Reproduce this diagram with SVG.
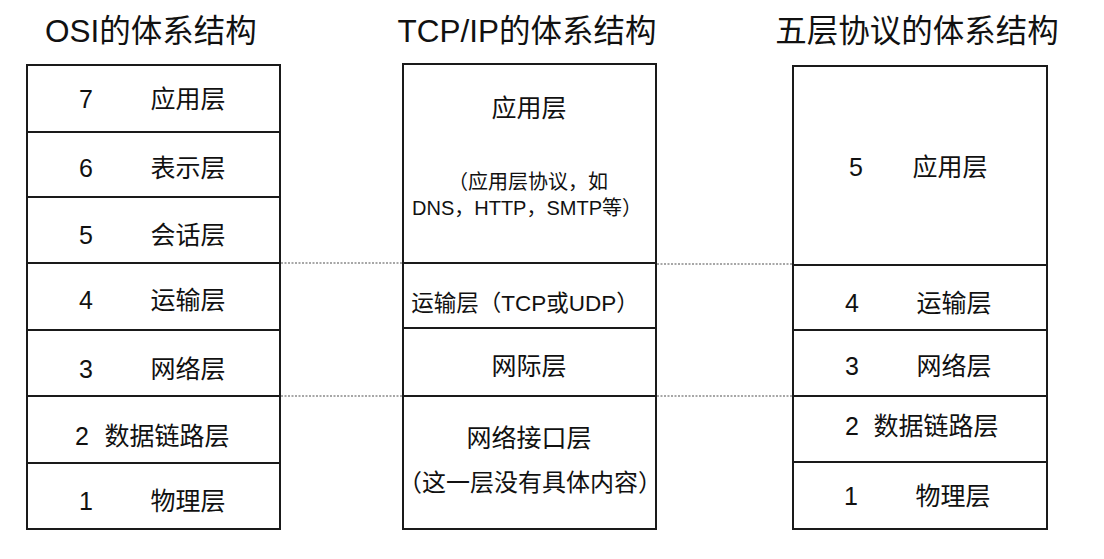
<svg xmlns="http://www.w3.org/2000/svg" width="1104" height="559" viewBox="0 0 1104 559">
<style>
.box{fill:#fff;stroke:#1a1a1a;stroke-width:2}
.sep{stroke:#1a1a1a;stroke-width:2}
.dot{stroke:#8a8a8a;stroke-width:1.5;stroke-dasharray:2 1.5;fill:none}
text{font-family:"Liberation Sans","Noto Sans CJK SC",sans-serif;fill:#111}
.t{font-size:31.5px;text-anchor:middle}
.l{font-size:25px;text-anchor:middle}
.p{font-size:24px;text-anchor:middle}
.m{font-size:22.5px;text-anchor:middle}
.s{font-size:20px;text-anchor:middle}
</style>
<rect width="1104" height="559" fill="#fff"/>
<g id="titles">
<text class="t" x="151" y="42">OSI的体系结构</text>
<text class="t" x="527" y="42">TCP/IP的体系结构</text>
<text class="t" x="917" y="42">五层协议的体系结构</text>
</g>
<g id="osi">
<rect class="box" x="27" y="65" width="253" height="464"/>
<line class="sep" x1="27" y1="132" x2="280" y2="132"/>
<line class="sep" x1="27" y1="197" x2="280" y2="197"/>
<line class="sep" x1="27" y1="263" x2="280" y2="263"/>
<line class="sep" x1="27" y1="330" x2="280" y2="330"/>
<line class="sep" x1="27" y1="396" x2="280" y2="396"/>
<line class="sep" x1="27" y1="463" x2="280" y2="463"/>
<text class="l" x="86" y="108">7</text><text class="l" x="188" y="108">应用层</text>
<text class="l" x="86" y="177">6</text><text class="l" x="188" y="177">表示层</text>
<text class="l" x="86" y="244">5</text><text class="l" x="188" y="244">会话层</text>
<text class="l" x="86" y="309">4</text><text class="l" x="188" y="309">运输层</text>
<text class="l" x="86" y="378">3</text><text class="l" x="188" y="378">网络层</text>
<text class="l" x="82" y="445">2</text><text class="l" x="167" y="445">数据链路层</text>
<text class="l" x="86" y="510">1</text><text class="l" x="188" y="510">物理层</text>
</g>
<g id="tcpip">
<rect class="box" x="403" y="64" width="253" height="465"/>
<line class="sep" x1="403" y1="263" x2="656" y2="263"/>
<line class="sep" x1="403" y1="328" x2="656" y2="328"/>
<line class="sep" x1="403" y1="396" x2="656" y2="396"/>
<text class="l" x="529" y="117">应用层</text>
<text class="s" x="528" y="189">（应用层协议，如</text>
<text class="s" x="527" y="215">DNS，HTTP，SMTP等）</text>
<text class="m" x="525" y="310.5">运输层（TCP或UDP）</text>
<text class="l" x="529" y="375">网际层</text>
<text class="l" x="529" y="447">网络接口层</text>
<text class="p" x="530" y="491">（这一层没有具体内容）</text>
</g>
<g id="five">
<rect class="box" x="793" y="66" width="254" height="463"/>
<line class="sep" x1="793" y1="265" x2="1047" y2="265"/>
<line class="sep" x1="793" y1="330" x2="1047" y2="330"/>
<line class="sep" x1="793" y1="396" x2="1047" y2="396"/>
<line class="sep" x1="793" y1="462" x2="1047" y2="462"/>
<text class="l" x="856" y="176">5</text><text class="l" x="950" y="176">应用层</text>
<text class="l" x="852" y="312">4</text><text class="l" x="954" y="312">运输层</text>
<text class="l" x="852" y="375">3</text><text class="l" x="954" y="375">网络层</text>
<text class="l" x="852" y="435">2</text><text class="l" x="936" y="435">数据链路层</text>
<text class="l" x="851" y="505">1</text><text class="l" x="953" y="505">物理层</text>
</g>
<g id="connectors">
<line class="dot" x1="281" y1="263" x2="402" y2="263"/>
<line class="dot" x1="281" y1="396" x2="402" y2="396"/>
<line class="dot" x1="657" y1="264" x2="792" y2="264"/>
<line class="dot" x1="657" y1="396" x2="792" y2="396"/>
</g>
</svg>
